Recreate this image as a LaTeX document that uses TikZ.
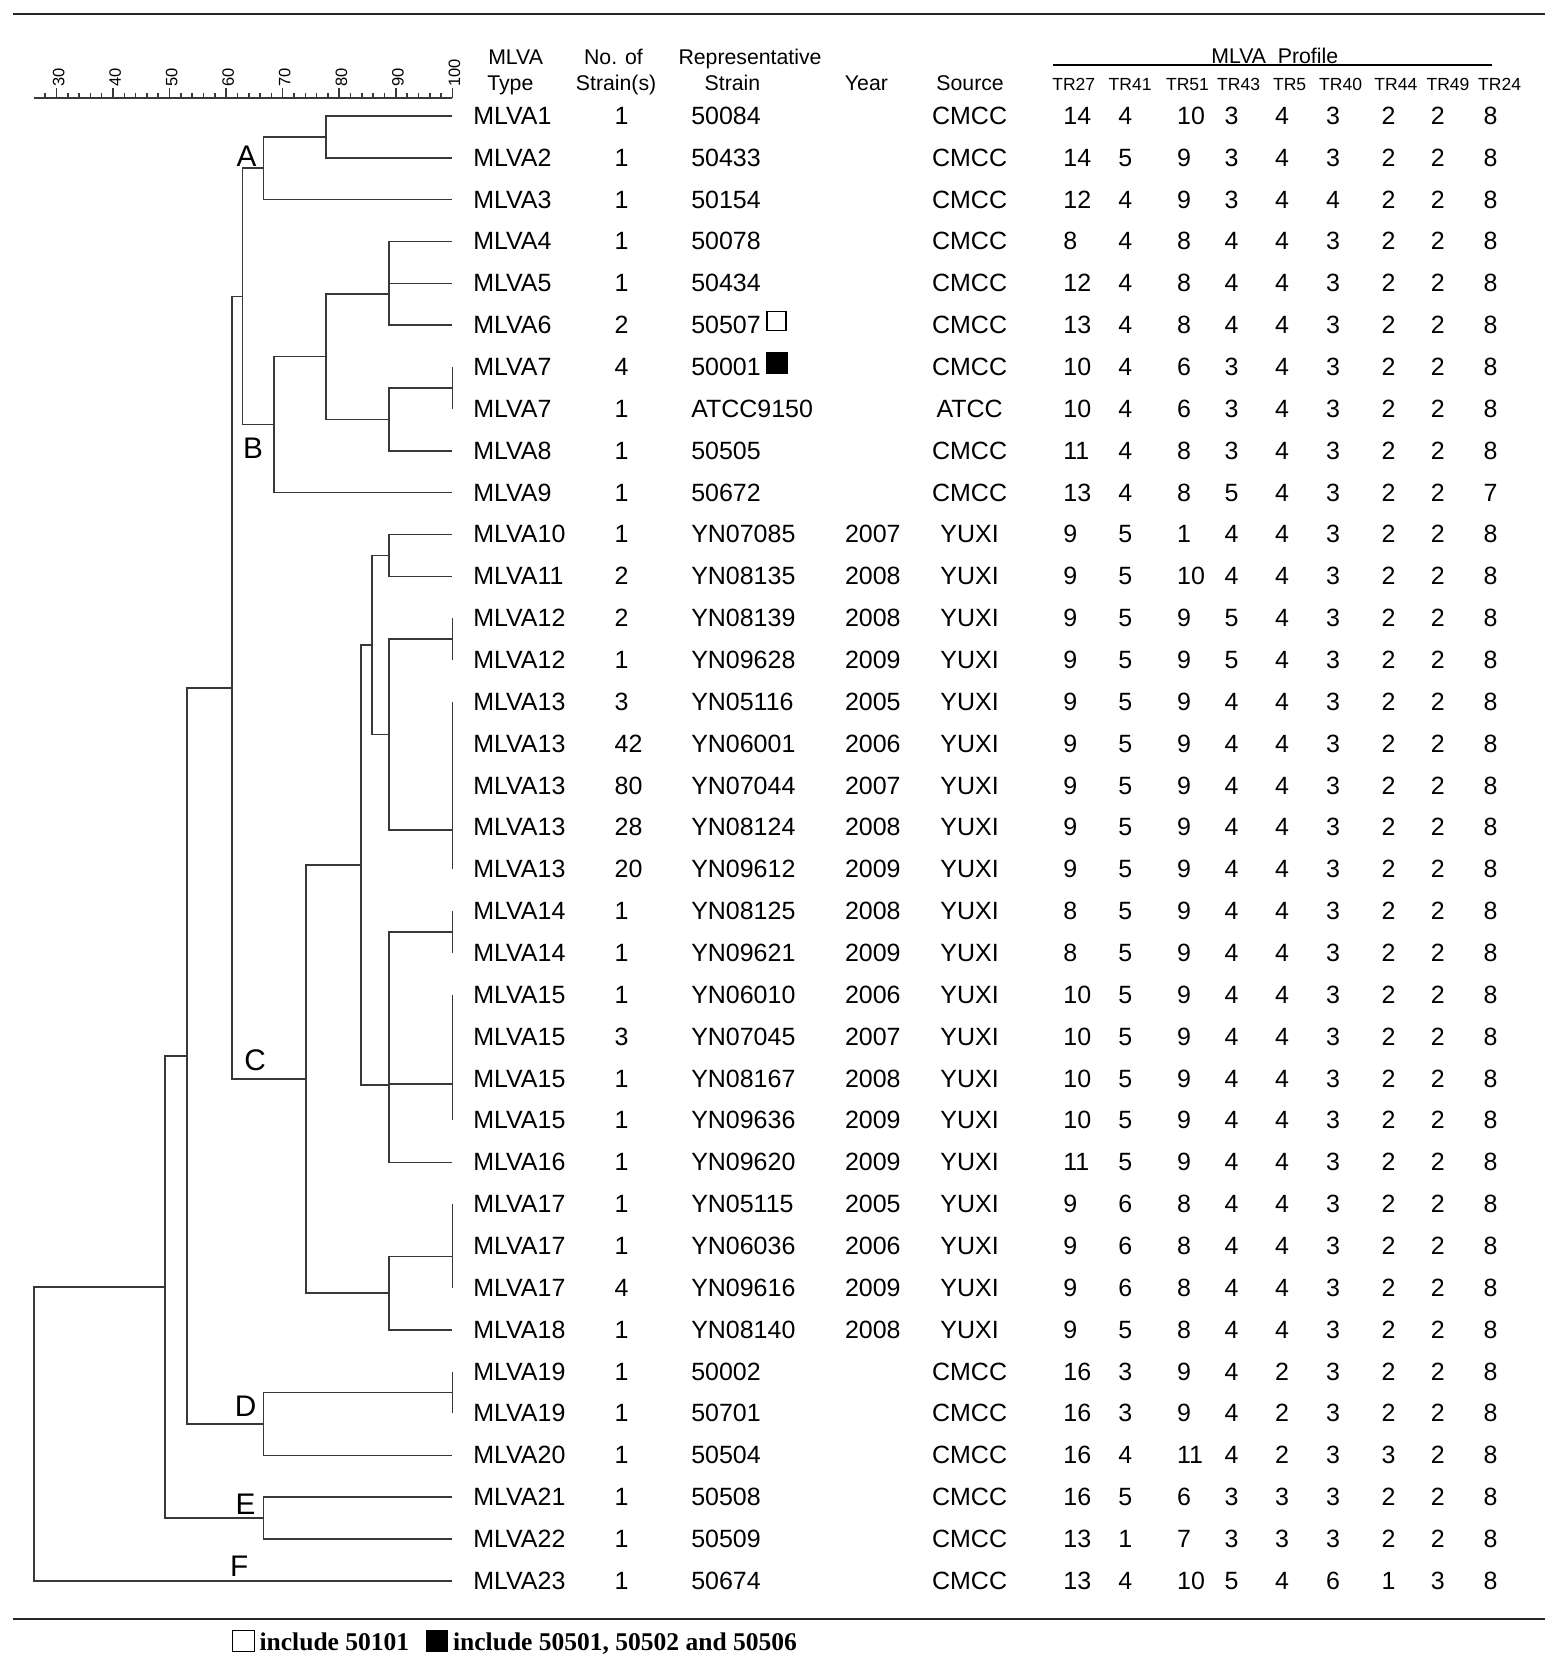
\documentclass[tikz,border=0pt]{standalone}
\usepackage{fontspec}
\setmainfont{Liberation Sans}
\newfontfamily\legfont{Liberation Serif}
\usetikzlibrary{calc}
\newcommand{\dendjoin}[4]{%
  \coordinate (#1m) at ($(#3)!.5!(#4)$);
  \coordinate (#1) at (#2,0 |- #1m);
  \draw[br] (#1) |- (#3);
  \draw[br] (#1) |- (#4);}
\begin{document}
\begin{tikzpicture}[x=1pt,y=-1pt,
  br/.style={draw=black!78, line width=1.45pt},
  rule/.style={draw=black!85, line width=2.4pt},
  tx/.style={inner sep=0pt, font=\fontsize{23.5}{27}\selectfont},
  hd/.style={inner sep=0pt, font=\fontsize{20}{24}\selectfont},
  trh/.style={inner sep=0pt, font=\fontsize{16.5}{20}\selectfont},
  clab/.style={inner sep=0pt, font=\fontsize{28}{32}\selectfont},
  axl/.style={inner sep=0pt, font=\fontsize{15.5}{18}\selectfont, rotate=90, anchor=west},
  leg/.style={inner sep=0pt, font=\legfont\bfseries\fontsize{24}{28}\selectfont, anchor=base west}]
\fill[white] (0,0) rectangle (1466,1568);
\useasboundingbox (0,0) rectangle (1466,1568);
% rules
\draw[rule] (12,13) -- (1453,13);
\draw[rule] (12,1523) -- (1453,1523);
% scale axis
\draw[br] (31.8,92.3) -- (425.5,92.3);
\foreach \v in {28,30,...,100}{
  \draw[br] ({425.5-(100-\v)*5.32},92.3) -- ++(0,-4.7);}
\foreach \v in {30,40,...,100}{
  \draw[br] ({425.5-(100-\v)*5.32},92.3) -- ++(0,-9.4);
  \node[axl] (ax\v) at ({425.5-(100-\v)*5.32+2},82) {\v};}
% headers
\node[hd, anchor=base] (h1a) at (485,61) {MLVA};
\node[hd, anchor=base] (h1b) at (480,85) {Type};
\node[hd, anchor=base] (h2a) at (577,61) {No. of};
\node[hd, anchor=base] (h2b) at (579.5,85) {Strain(s)};
\node[hd, anchor=base] (h3a) at (705.5,61) {Representative};
\node[hd, anchor=base] (h3b) at (689,85) {Strain};
\node[hd, anchor=base] (h4) at (815,85) {Year};
\node[hd, anchor=base] (h5) at (912.5,85) {Source};
\node[hd, anchor=base] (hp) at (1199,60) {MLVA\ \ Profile};
\draw[line width=1.8pt] (990,61) -- (1403,61);
\foreach \t/\xx in {TR27/1010,TR41/1063,TR51/1117,TR43/1165,TR5/1213,TR40/1261,TR44/1313,TR49/1362,TR24/1410.5}{
  \node[trh, anchor=base] (h\t) at (\xx,85) {\t};}
% table rows
\foreach \i/\ty/\nn/\sn/\yr/\so/\cA/\cB/\cC/\cD/\cE/\cF/\cG/\cH/\cI in {
1/MLVA1/1/50084/{}/CMCC/14/4/10/3/4/3/2/2/8,
2/MLVA2/1/50433/{}/CMCC/14/5/9/3/4/3/2/2/8,
3/MLVA3/1/50154/{}/CMCC/12/4/9/3/4/4/2/2/8,
4/MLVA4/1/50078/{}/CMCC/8/4/8/4/4/3/2/2/8,
5/MLVA5/1/50434/{}/CMCC/12/4/8/4/4/3/2/2/8,
6/MLVA6/2/50507/{}/CMCC/13/4/8/4/4/3/2/2/8,
7/MLVA7/4/50001/{}/CMCC/10/4/6/3/4/3/2/2/8,
8/MLVA7/1/ATCC9150/{}/ATCC/10/4/6/3/4/3/2/2/8,
9/MLVA8/1/50505/{}/CMCC/11/4/8/3/4/3/2/2/8,
10/MLVA9/1/50672/{}/CMCC/13/4/8/5/4/3/2/2/7,
11/MLVA10/1/YN07085/2007/YUXI/9/5/1/4/4/3/2/2/8,
12/MLVA11/2/YN08135/2008/YUXI/9/5/10/4/4/3/2/2/8,
13/MLVA12/2/YN08139/2008/YUXI/9/5/9/5/4/3/2/2/8,
14/MLVA12/1/YN09628/2009/YUXI/9/5/9/5/4/3/2/2/8,
15/MLVA13/3/YN05116/2005/YUXI/9/5/9/4/4/3/2/2/8,
16/MLVA13/42/YN06001/2006/YUXI/9/5/9/4/4/3/2/2/8,
17/MLVA13/80/YN07044/2007/YUXI/9/5/9/4/4/3/2/2/8,
18/MLVA13/28/YN08124/2008/YUXI/9/5/9/4/4/3/2/2/8,
19/MLVA13/20/YN09612/2009/YUXI/9/5/9/4/4/3/2/2/8,
20/MLVA14/1/YN08125/2008/YUXI/8/5/9/4/4/3/2/2/8,
21/MLVA14/1/YN09621/2009/YUXI/8/5/9/4/4/3/2/2/8,
22/MLVA15/1/YN06010/2006/YUXI/10/5/9/4/4/3/2/2/8,
23/MLVA15/3/YN07045/2007/YUXI/10/5/9/4/4/3/2/2/8,
24/MLVA15/1/YN08167/2008/YUXI/10/5/9/4/4/3/2/2/8,
25/MLVA15/1/YN09636/2009/YUXI/10/5/9/4/4/3/2/2/8,
26/MLVA16/1/YN09620/2009/YUXI/11/5/9/4/4/3/2/2/8,
27/MLVA17/1/YN05115/2005/YUXI/9/6/8/4/4/3/2/2/8,
28/MLVA17/1/YN06036/2006/YUXI/9/6/8/4/4/3/2/2/8,
29/MLVA17/4/YN09616/2009/YUXI/9/6/8/4/4/3/2/2/8,
30/MLVA18/1/YN08140/2008/YUXI/9/5/8/4/4/3/2/2/8,
31/MLVA19/1/50002/{}/CMCC/16/3/9/4/2/3/2/2/8,
32/MLVA19/1/50701/{}/CMCC/16/3/9/4/2/3/2/2/8,
33/MLVA20/1/50504/{}/CMCC/16/4/11/4/2/3/3/2/8,
34/MLVA21/1/50508/{}/CMCC/16/5/6/3/3/3/2/2/8,
35/MLVA22/1/50509/{}/CMCC/13/1/7/3/3/3/2/2/8,
36/MLVA23/1/50674/{}/CMCC/13/4/10/5/4/6/1/3/8}{
  \pgfmathsetmacro\yy{109+(\i-1)*39.371+8}
  \coordinate (L\i) at (425.5,{109+(\i-1)*39.371});
  \node[tx, anchor=base west] (ty\i) at (445,\yy) {\ty};
  \node[tx, anchor=base west] (nn\i) at (578,\yy) {\nn};
  \node[tx, anchor=base west] (sn\i) at (650,\yy) {\sn};
  \node[tx, anchor=base] (yr\i) at (821,\yy) {\yr};
  \node[tx, anchor=base] (so\i) at (912,\yy) {\so};
  \node[tx, anchor=base west] (pa\i) at (1000,\yy) {\cA};
  \node[tx, anchor=base] (pb\i) at (1058.5,\yy) {\cB};
  \node[tx, anchor=base west] (pc\i) at (1107,\yy) {\cC};
  \node[tx, anchor=base] (pd\i) at (1158.5,\yy) {\cD};
  \node[tx, anchor=base] (pe\i) at (1206,\yy) {\cE};
  \node[tx, anchor=base] (pf\i) at (1254,\yy) {\cF};
  \node[tx, anchor=base] (pg\i) at (1306,\yy) {\cG};
  \node[tx, anchor=base] (ph\i) at (1352.5,\yy) {\cH};
  \node[tx, anchor=base] (pi\i) at (1402,\yy) {\cI};
}
% marker squares
\node[draw=black, line width=1.4pt, minimum size=18pt, inner sep=0pt] (sqo) at (730.5,{109+5*39.371-4}) {};
\node[fill=black, draw=black, minimum size=19pt, inner sep=0pt] (sqf) at (730.5,{109+6*39.371-4}) {};
% dendrogram: ties (100%)
\dendjoin{t77}{425.5}{L7}{L8}
\dendjoin{t12}{425.5}{L13}{L14}
\dendjoin{t13a}{425.5}{L15}{L16}
\dendjoin{t13b}{425.5}{t13a}{L17}
\dendjoin{t13c}{425.5}{t13b}{L18}
\dendjoin{t13}{425.5}{t13c}{L19}
\dendjoin{t14}{425.5}{L20}{L21}
\dendjoin{t15a}{425.5}{L22}{L23}
\dendjoin{t15b}{425.5}{t15a}{L24}
\dendjoin{t15}{425.5}{t15b}{L25}
\dendjoin{t17a}{425.5}{L27}{L28}
\dendjoin{t17}{425.5}{t17a}{L29}
\dendjoin{t19}{425.5}{L31}{L32}
% cluster A
\dendjoin{nab}{306.5}{L1}{L2}
\dendjoin{nA}{248}{nab}{L3}
% cluster B
\dendjoin{nfg}{366}{L4}{L5}
\dendjoin{nfgh}{366}{nfg}{L6}
\dendjoin{nseven}{366}{t77}{L9}
\dendjoin{nBs}{306.5}{nfgh}{nseven}
\dendjoin{nB}{257.7}{nBs}{L10}
\dendjoin{nAB}{228}{nA}{nB}
% cluster C
\dendjoin{nten}{366}{L11}{L12}
\dendjoin{ntw}{366}{t12}{t13}
\dendjoin{ntt}{350}{nten}{ntw}
\dendjoin{nff}{366}{t14}{t15}
\dendjoin{nffs}{366}{nff}{L26}
\dendjoin{nCt}{339.5}{ntt}{nffs}
\dendjoin{nse}{366}{t17}{L30}
\dendjoin{nC}{287.8}{nCt}{nse}
\dendjoin{nABC}{218}{nAB}{nC}
% clusters D, E, root
\dendjoin{nD}{248}{t19}{L33}
\dendjoin{nABCD}{176}{nABC}{nD}
\dendjoin{nE}{248}{L34}{L35}
\dendjoin{nABCDE}{155}{nABCD}{nE}
\dendjoin{root}{32}{nABCDE}{L36}
% cluster letters
\node[clab] (lA) at (232,147) {A};
\node[clab] (lB) at (238,422) {B};
\node[clab] (lC) at (240,997) {C};
\node[clab] (lD) at (231,1323) {D};
\node[clab] (lE) at (231,1415) {E};
\node[clab] (lF) at (225,1473) {F};
% legend
\node[draw=black, line width=1.4pt, minimum width=21pt, minimum height=20pt, inner sep=0pt] (lgo) at (229,1543.5) {};
\node[leg] (lgt1) at (244,1552) {include 50101};
\node[fill=black, minimum width=20pt, minimum height=21pt, inner sep=0pt] (lgf) at (411,1543.5) {};
\node[leg] (lgt2) at (426,1552) {include 50501, 50502 and 50506};
\end{tikzpicture}
\end{document}
